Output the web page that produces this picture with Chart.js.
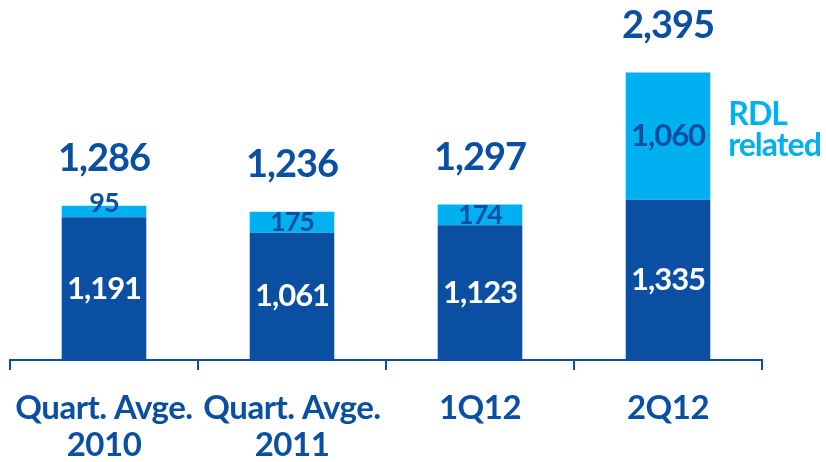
<!DOCTYPE html>
<html>
<head>
<meta charset="utf-8">
<script src="https://cdn.jsdelivr.net/npm/chart.js@4.4.1/dist/chart.umd.min.js"></script>
<style>
  html, body { margin: 0; padding: 0; background: #ffffff; }
  #wrap { width: 826px; height: 462px; position: relative; }
</style>
</head>
<body>
<div id="wrap"><canvas id="c" width="826" height="462"></canvas></div>
<script>
// Quarterly figures: core amount plus the RDL-related part
const categories = [["Quart. Avge.", "2010"], ["Quart. Avge.", "2011"], "1Q12", "2Q12"];
const coreValues = [1191, 1061, 1123, 1335];
const rdlValues = [95, 175, 174, 1060];
const totalValues = [1286, 1236, 1297, 2395];
const rdlLegend = ["RDL", "related"];

const DARK = "#0b4fa2";
const LIGHT = "#00b0f0";
const FONT = "Lato";

const fmt = v => v.toLocaleString("en-US");

// Tighter letter spacing for all text on the canvas
const tightText = {
  id: "tightText",
  beforeDraw(chart) { chart.ctx.letterSpacing = "-0.5px"; }
};

// Draws segment values, totals above the bars and the RDL note
const valueLabels = {
  id: "valueLabels",
  afterDatasetsDraw(chart) {
    const ctx = chart.ctx;
    const core = chart.getDatasetMeta(0).data;
    const rdl = chart.getDatasetMeta(1).data;
    ctx.save();
    ctx.letterSpacing = "-1px";
    ctx.textAlign = "center";
    ctx.textBaseline = "middle";
    core.forEach((bar, i) => {
      // core value, white inside the dark segment
      ctx.fillStyle = "#ffffff";
      ctx.font = "bold 31px " + FONT;
      ctx.fillText(fmt(coreValues[i]), bar.x, (bar.y + bar.base) / 2);
      // RDL value inside the light segment
      const top = rdl[i];
      const big = rdlValues[i] > 500;
      ctx.fillStyle = DARK;
      ctx.font = (big ? "bold 31px " : "bold 27px ") + FONT;
      const mid = (top.y + top.base) / 2;
      ctx.fillText(fmt(rdlValues[i]), top.x, rdlValues[i] < 120 ? mid - 8 : mid);
      // total above the bar
      ctx.font = "bold 38px " + FONT;
      ctx.fillText(fmt(totalValues[i]), top.x, top.y - 47);
    });
    // note to the right of the last bar
    const last = rdl[rdl.length - 1];
    const mid = (last.y + last.base) / 2;
    const x = last.x + last.width / 2 + 18;
    ctx.textAlign = "left";
    ctx.fillStyle = LIGHT;
    ctx.font = "bold 32px " + FONT;
    ctx.fillText(rdlLegend[0], x, mid - 22);
    ctx.fillText(rdlLegend[1], x, mid + 9);
    ctx.restore();
  }
};

new Chart(document.getElementById("c"), {
  type: "bar",
  data: {
    labels: categories,
    datasets: [
      { data: coreValues, backgroundColor: DARK, borderWidth: 0 },
      { data: rdlValues, backgroundColor: LIGHT, borderWidth: 0 }
    ]
  },
  options: {
    responsive: false,
    animation: false,
    devicePixelRatio: 1,
    layout: { padding: { left: 10, right: 64, top: 0, bottom: -22 } },
    plugins: { legend: { display: false }, tooltip: { enabled: false } },
    datasets: { bar: { categoryPercentage: 1, barPercentage: 0.45 } },
    scales: {
      x: {
        stacked: true,
        afterFit(scale) { scale.paddingLeft = 0; scale.paddingRight = 0; },
        grid: { drawOnChartArea: false, drawTicks: true, tickLength: 10, color: DARK, lineWidth: 2, offset: true },
        border: { display: true, color: DARK, width: 2 },
        ticks: { color: DARK, font: { family: FONT, weight: "bold", size: 33, lineHeight: 1.12 }, padding: 20, maxRotation: 0, autoSkip: false }
      },
      y: {
        stacked: true,
        display: false,
        min: 0,
        max: 3000
      }
    }
  },
  plugins: [tightText, valueLabels]
});
</script>
</body>
</html>
